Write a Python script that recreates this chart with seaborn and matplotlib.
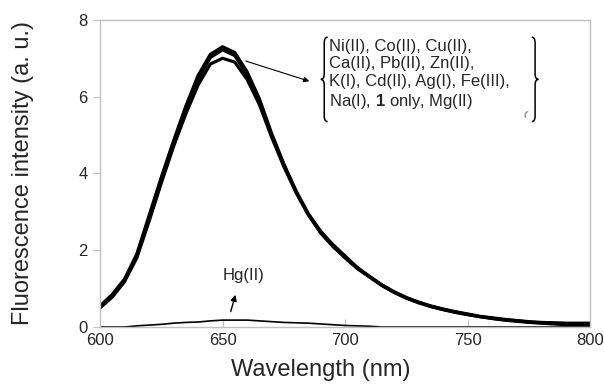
import numpy as np
import pandas as pd
import matplotlib
matplotlib.use("Agg")
import matplotlib.pyplot as plt
from matplotlib.path import Path
from matplotlib.patches import PathPatch
import seaborn as sns

# wavelength grid (nm)
wavelength = list(range(600, 805, 5))

# emission spectra (a. u.)
upper = [0.55, 0.85, 1.25, 1.9, 2.9, 3.9, 4.85, 5.75, 6.55, 7.1, 7.3, 7.15, 6.65,
         5.95, 5.05, 4.25, 3.55, 2.95, 2.5, 2.15, 1.85, 1.55, 1.32, 1.1, 0.92,
         0.77, 0.65, 0.55, 0.47, 0.4, 0.34, 0.28, 0.24, 0.2, 0.17, 0.14, 0.12,
         0.11, 0.1, 0.1, 0.1]
middle = [0.52, 0.82, 1.22, 1.85, 2.82, 3.82, 4.78, 5.65, 6.45, 7.02, 7.22, 7.07, 6.57,
          5.88, 5.0, 4.22, 3.52, 2.94, 2.48, 2.12, 1.82, 1.54, 1.31, 1.09, 0.91,
          0.76, 0.64, 0.54, 0.46, 0.39, 0.33, 0.27, 0.23, 0.19, 0.16, 0.13, 0.11,
          0.1, 0.09, 0.08, 0.08]
lower = [0.5, 0.78, 1.18, 1.8, 2.75, 3.75, 4.7, 5.55, 6.3, 6.85, 7.0, 6.9, 6.45,
         5.8, 4.95, 4.18, 3.5, 2.92, 2.45, 2.1, 1.8, 1.52, 1.3, 1.08, 0.9,
         0.75, 0.63, 0.53, 0.45, 0.38, 0.32, 0.27, 0.22, 0.18, 0.15, 0.12, 0.1,
         0.08, 0.06, 0.06, 0.06]
hg = [0, 0, 0, 0.03, 0.05, 0.07, 0.1, 0.12, 0.13, 0.16, 0.18, 0.18, 0.18,
      0.16, 0.14, 0.12, 0.11, 0.1, 0.08, 0.06, 0.04, 0.03, 0.02, 0, 0,
      0, 0, 0, 0, 0, 0, 0, 0, 0, 0, 0, 0, 0, 0, 0, 0]

ion_text = ("Ni(II), Co(II), Cu(II),\nCa(II), Pb(II), Zn(II),\n"
            "K(I), Cd(II), Ag(I), Fe(III),\nNa(I), $\\mathbf{1}$ only, Mg(II)")

sns.set_style("white")
plt.rcParams["font.family"] = ["Liberation Sans", "DejaVu Sans"]
plt.rcParams["mathtext.fontset"] = "custom"
plt.rcParams["mathtext.rm"] = "Liberation Sans"
plt.rcParams["mathtext.bf"] = "Liberation Sans:bold"

df = pd.concat([
    pd.DataFrame({"wavelength": wavelength, "intensity": upper, "sample": "a"}),
    pd.DataFrame({"wavelength": wavelength, "intensity": middle, "sample": "b"}),
    pd.DataFrame({"wavelength": wavelength, "intensity": lower, "sample": "c"}),
])
df_hg = pd.DataFrame({"wavelength": wavelength, "intensity": hg})

fig = plt.figure(figsize=(6.04, 3.9), dpi=100)
ax = fig.add_axes([0.1656, 0.1615, 0.8114, 0.7875])

sns.lineplot(data=df, x="wavelength", y="intensity", hue="sample",
             palette=["black"] * 3, linewidth=2.3, legend=False, ax=ax)
sns.lineplot(data=df_hg, x="wavelength", y="intensity", color="black",
             linewidth=1.2, ax=ax)

ax.set_xlim(600, 800)
ax.set_ylim(0, 8)
ax.set_xticks([600, 650, 700, 750, 800])
ax.set_yticks([0, 2, 4, 6, 8])
for s in ax.spines.values():
    s.set_color("#c0c0c0")
    s.set_linewidth(1.0)
ax.tick_params(axis="x", direction="in", length=6, color="#c0c0c0", labelsize=12, pad=4)
ax.tick_params(axis="y", direction="out", length=5, color="#c0c0c0", labelsize=12, pad=4)
ax.tick_params(left=True, bottom=True)

ax.set_xlabel("Wavelength (nm)", fontsize=17)
ax.set_ylabel("Fluorescence intensity (a. u.)", fontsize=17)
ax.xaxis.set_label_coords(0.451, -0.105)
ax.yaxis.set_label_coords(-0.134, 0.5)

# ion list with braces
ax.text(693.5, 7.5, ion_text, fontsize=12, va="top", ha="left", linespacing=1.2)


def brace(x_arm, x_tip, y_bot, y_top, h=0.15):
    xm = (x_arm + x_tip) / 2
    ym = (y_bot + y_top) / 2
    verts = [(x_arm, y_top), (xm, y_top), (xm, y_top - h),
             (xm, ym + h), (xm, ym), (x_tip, ym),
             (xm, ym), (xm, ym - h),
             (xm, y_bot + h), (xm, y_bot), (x_arm, y_bot)]
    codes = [Path.MOVETO, Path.CURVE3, Path.CURVE3,
             Path.LINETO, Path.CURVE3, Path.CURVE3,
             Path.CURVE3, Path.CURVE3,
             Path.LINETO, Path.CURVE3, Path.CURVE3]
    ax.add_patch(PathPatch(Path(verts, codes), fill=False, lw=1.1, color="black"))


brace(692.9, 690.1, 5.35, 7.55)
brace(776.2, 778.9, 5.35, 7.55)
ax.text(773.3, 5.45, "(", fontsize=6, ha="center", va="bottom", rotation=-20)

ax.annotate("", xy=(686.5, 6.38), xytext=(658.4, 6.95),
            arrowprops=dict(arrowstyle="-|>", color="black", lw=0.8,
                            mutation_scale=8))

ax.text(658.4, 1.34, "Hg(II)", fontsize=12, ha="center", va="center")
ax.annotate("", xy=(655.6, 0.91), xytext=(653.0, 0.33),
            arrowprops=dict(arrowstyle="-|>", color="black", lw=1.0,
                            mutation_scale=9))

fig.savefig("out.png", dpi=100)
